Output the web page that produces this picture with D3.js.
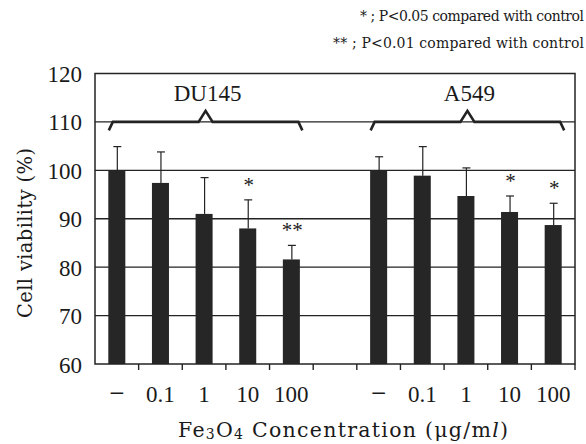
<!DOCTYPE html>
<html>
<head>
<meta charset="utf-8">
<script src="https://cdn.jsdelivr.net/npm/d3@7"></script>
<style>
  body { margin: 0; background: #fff; }
  svg { display: block; }
  text { fill: #1a1a1a; font-family: "Liberation Serif", "DejaVu Serif", serif; }
</style>
</head>
<body>
<div id="chart"></div>
<script>
`use strict`;

// concentrations (ug/ml), "−" = control
const doses = [`\u2212`, `0.1`, `1`, `10`, `100`];
const groups = [`DU145`, `A549`];

// mean cell viability (%) and upper error (mean + SD)
const du145Mean = [100, 97.4, 91.0, 88.0, 81.6];
const du145Err = [104.9, 103.8, 98.5, 93.9, 84.5];
const du145Sig = [``, ``, ``, `*`, `**`];

const a549Mean = [100, 98.9, 94.7, 91.4, 88.7];
const a549Err = [102.8, 104.9, 100.5, 94.7, 93.2];
const a549Sig = [``, ``, ``, `*`, `*`];

const yTicks = [60, 70, 80, 90, 100, 110, 120];

const legendLines = [`* ; P<0.05 compared with control`, `** ; P<0.01 compared with control`];

(function () {

  const W = 586, H = 444;
  const left = 95, right = 575, top = 73.5, bottom = 364;

  const series = [
    {name: groups[0], mean: du145Mean, err: du145Err, sig: du145Sig},
    {name: groups[1], mean: a549Mean, err: a549Err, sig: a549Sig}
  ];

  let rows = [];
  series.forEach(S => {
    doses.forEach((d, i) => {
      rows.push({key: `${S.name}|${d}`, group: S.name, dose: d, mean: S.mean[i], err: S.err[i], sig: S.sig[i]});
    });
  });

  // one empty slot between the two cell lines
  const slots = rows.filter(r => r.group === groups[0]).map(r => r.key)
    .concat([`gap`])
    .concat(rows.filter(r => r.group === groups[1]).map(r => r.key));

  const x = d3.scaleBand().domain(slots).range([left, right]).paddingInner(0.61).paddingOuter(0.305);
  const y = d3.scaleLinear().domain([60, 120]).range([bottom, top]);

  const svg = d3.select(`#chart`).append(`svg`)
    .attr(`width`, W)
    .attr(`height`, H);

  const ink = `#232323`;

  // grid lines
  svg.append(`g`).selectAll(`line`).data(yTicks.filter(t => t > 60 && t < 120))
    .enter()
    .append(`line`)
    .attr(`x1`, left).attr(`x2`, right)
    .attr(`y1`, d => y(d)).attr(`y2`, d => y(d))
    .attr(`stroke`, ink)
    .style(`stroke-width`, 1.4);

  // bars
  svg.append(`g`).selectAll(`rect`).data(rows)
    .enter()
    .append(`rect`)
    .attr(`x`, d => x(d.key))
    .attr(`y`, d => y(d.mean))
    .attr(`width`, x.bandwidth())
    .attr(`height`, d => y(60) - y(d.mean))
    .attr(`fill`, `#262626`);

  // error bars (upper only)
  const eb = svg.append(`g`).attr(`stroke`, ink).style(`stroke-width`, 1.2);
  rows.forEach(d => {
    let cx = x(d.key) + x.bandwidth() / 2 + 0.5;
    eb.append(`line`).attr(`x1`, cx).attr(`x2`, cx).attr(`y1`, y(d.mean)).attr(`y2`, y(d.err));
    eb.append(`line`).attr(`x1`, cx - 4).attr(`x2`, cx + 4).attr(`y1`, y(d.err)).attr(`y2`, y(d.err));
  });

  // significance marks
  svg.append(`g`).selectAll(`text`).data(rows.filter(r => r.sig))
    .enter()
    .append(`text`)
    .attr(`x`, d => x(d.key) + x.bandwidth() / 2 + 1)
    .attr(`y`, d => y(d.err) - 8)
    .attr(`text-anchor`, `middle`)
    .style(`font-size`, `21px`)
    .text(d => d.sig);

  // frame
  svg.append(`rect`)
    .attr(`x`, left).attr(`y`, top)
    .attr(`width`, right - left).attr(`height`, bottom - top)
    .attr(`fill`, `none`)
    .attr(`stroke`, ink)
    .style(`stroke-width`, 1.5);

  // ticks at slot boundaries, pointing down
  const step = x.step();
  const bounds = slots.slice(1).map(k => x(k) - step * x.paddingInner() / 2).concat([right]);
  svg.append(`g`).selectAll(`line`).data(bounds)
    .enter()
    .append(`line`)
    .attr(`x1`, d => d).attr(`x2`, d => d)
    .attr(`y1`, bottom).attr(`y2`, bottom + 6)
    .attr(`stroke`, ink)
    .style(`stroke-width`, 1.4);

  // x tick labels
  svg.append(`g`).selectAll(`text`).data(rows)
    .enter()
    .append(`text`)
    .attr(`x`, d => x(d.key) + x.bandwidth() / 2)
    .attr(`y`, 402)
    .attr(`text-anchor`, `middle`)
    .style(`font-size`, d => d.dose === doses[0] ? `27px` : `23px`)
    .text(d => d.dose);

  // y axis labels
  const yAxis = d3.axisLeft(y).tickValues(yTicks).tickSize(0).tickPadding(13);
  const ga = svg.append(`g`).attr(`transform`, `translate(${left},0)`).call(yAxis);
  ga.select(`.domain`).remove();
  ga.selectAll(`text`)
    .style(`font-family`, `"Liberation Serif", serif`)
    .style(`font-size`, `23px`)
    .attr(`dy`, `0.35em`)
    .attr(`fill`, `#1a1a1a`);

  // braces + group labels
  series.forEach(S => {
    let first = x(`${S.name}|${doses[0]}`) + x.bandwidth() / 2;
    let last = x(`${S.name}|${doses[doses.length - 1]}`) + x.bandwidth() / 2;
    let x0 = first - 8, x1 = last + 11, xm = (x0 + x1) / 2;
    let yb = y(110), yl = yb + 8.5, yp = yb - 11;
    let pts = [[x0, yl], [x0 + 4, yb], [xm - 7, yb], [xm, yp], [xm + 7, yb], [x1 - 4, yb], [x1, yl]];
    svg.append(`path`)
      .attr(`d`, d3.line()(pts))
      .attr(`fill`, `none`)
      .attr(`stroke`, ink)
      .style(`stroke-width`, 2.6)
      .style(`stroke-linejoin`, `miter`);
    svg.append(`text`)
      .attr(`x`, xm + 2)
      .attr(`y`, 101)
      .attr(`text-anchor`, `middle`)
      .style(`font-size`, `23px`)
      .text(S.name);
  });

  // axis titles
  const xt = svg.append(`text`)
    .attr(`x`, 178)
    .attr(`y`, 437)
    .attr(`textLength`, 330)
    .attr(`lengthAdjust`, `spacing`)
    .style(`font-family`, `"DejaVu Serif", serif`)
    .style(`font-size`, `20.5px`);
  xt.append(`tspan`).text(`Fe`);
  xt.append(`tspan`).attr(`dy`, 2).style(`font-size`, `14px`).text(`3`);
  xt.append(`tspan`).attr(`dy`, -2).text(`O`);
  xt.append(`tspan`).attr(`dy`, 2).style(`font-size`, `14px`).text(`4`);
  xt.append(`tspan`).attr(`dy`, -2).text(` Concentration (\u03BCg/m`);
  xt.append(`tspan`).style(`font-style`, `italic`).text(`l`);
  xt.append(`tspan`).text(`)`);

  svg.append(`text`)
    .attr(`transform`, `translate(32,318) rotate(-90)`)
    .attr(`textLength`, 170)
    .attr(`lengthAdjust`, `spacing`)
    .style(`font-family`, `"DejaVu Serif", serif`)
    .style(`font-size`, `19.5px`)
    .text(`Cell viability (%)`);

  // legend
  svg.append(`g`).selectAll(`text`).data(legendLines)
    .enter()
    .append(`text`)
    .attr(`x`, 584)
    .attr(`y`, (d, i) => 21 + i * 27)
    .attr(`text-anchor`, `end`)
    .attr(`textLength`, (d, i) => i ? 251 : 224)
    .attr(`lengthAdjust`, `spacing`)
    .style(`font-family`, `"DejaVu Serif", serif`)
    .style(`font-size`, `14px`)
    .text(d => d);

})();
</script>
</body>
</html>
